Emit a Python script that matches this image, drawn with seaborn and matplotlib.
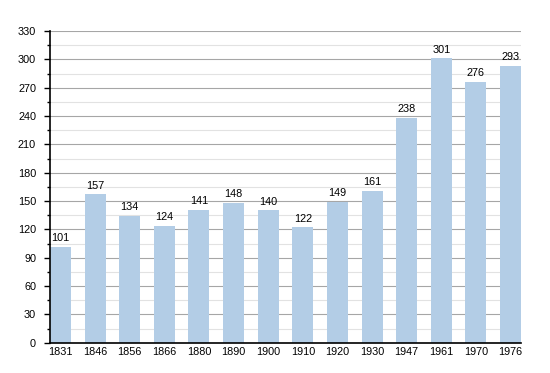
import matplotlib
matplotlib.use("Agg")
import matplotlib.pyplot as plt
import seaborn as sns
import pandas as pd
from matplotlib.ticker import MultipleLocator

years = ["1831", "1846", "1856", "1866", "1880", "1890", "1900", "1910", "1920", "1930", "1947", "1961", "1970", "1976"]
population = [101, 157, 134, 124, 141, 148, 140, 122, 149, 161, 238, 301, 276, 293]

df = pd.DataFrame({"year": years, "pop": population})

sns.set_style("white")
plt.rcParams["font.family"] = ["Liberation Sans", "DejaVu Sans"]

fig = plt.figure(figsize=(5.5, 3.73), dpi=100)
ax = fig.add_axes([50 / 550, 1 - 342.7 / 373, 471 / 550, 311.7 / 373])

w = 0.607
sns.barplot(data=df, x="year", y="pop", ax=ax, color="#b3cde6", saturation=1,
            width=w, edgecolor="none", zorder=3)

ax.set_ylim(0, 330)
ax.set_xlim(-w / 2, len(years) - 1 + w / 2)
ax.yaxis.set_major_locator(MultipleLocator(30))
ax.yaxis.set_minor_locator(MultipleLocator(15))
ax.set_axisbelow(True)
ax.grid(True, which="major", axis="y", color="#a6a6a6", linewidth=0.8)
ax.grid(True, which="minor", axis="y", color="#e2e2e2", linewidth=0.8)
ax.grid(False, axis="x")

for s in ["top", "right"]:
    ax.spines[s].set_visible(False)
for s in ["left", "bottom"]:
    ax.spines[s].set_color("black")
    ax.spines[s].set_linewidth(1.2)
    ax.spines[s].set_zorder(5)

ax.tick_params(axis="y", which="major", length=4, width=1, color="black", labelsize=7.8,
               labelcolor="black", pad=6, direction="out", left=True)
ax.tick_params(axis="y", which="minor", length=2, width=1, color="black", direction="out", left=True)
ax.tick_params(axis="x", length=0, labelsize=7.8, labelcolor="black", pad=3.3)
ax.set_xlabel("")
ax.set_ylabel("")

for i, v in enumerate(population):
    ax.annotate(str(v), (i, v), xytext=(0, 4.2), textcoords="offset points",
                ha="center", va="baseline", fontsize=7.8, color="black", zorder=6)

fig.savefig("out.png", dpi=100)
